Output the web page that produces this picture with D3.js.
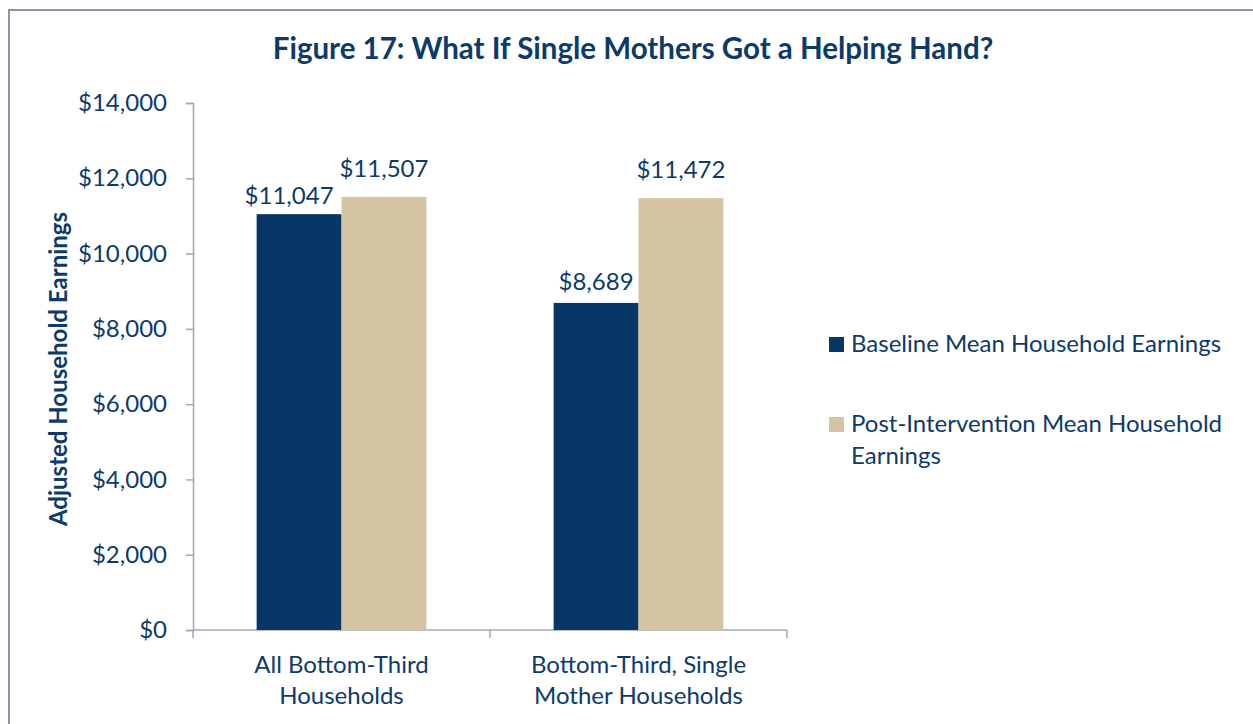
<!DOCTYPE html>
<html>
<head>
<meta charset="utf-8">
<script src="https://cdn.jsdelivr.net/npm/d3@7"></script>
<style>
  body { margin: 0; background: #fff; }
  text { font-family: Lato, "Open Sans", sans-serif; fill: #0c3a6b; }
</style>
</head>
<body>
<script>
const width = 1253;
const height = 724;

const categories = [["All Bottom-Third", "Households"], ["Bottom-Third, Single", "Mother Households"]];
const seriesNames = ["Baseline Mean Household Earnings", "Post-Intervention Mean Household Earnings"];
const baseline = [11047, 8689];
const postIntervention = [11507, 11472];
const yTicks = [0, 2000, 4000, 6000, 8000, 10000, 12000, 14000];

const COLORS = ["#073767", "#d4c4a1"];
const AXIS_COLOR = "#a3a6b6";
const FONT_SIZE = "24px";

const svg = d3.select("body")
	.append("svg")
	.attr("width", width)
	.attr("height", height);

// frame (runs off the right and bottom edges)
svg.append("rect")
	.attr("x", 9)
	.attr("y", 10)
	.attr("width", 1300)
	.attr("height", 800)
	.attr("fill", "none")
	.attr("stroke", "#8e91a3")
	.attr("stroke-width", 2);

svg.append("text")
	.attr("x", 633)
	.attr("y", 59)
	.attr("text-anchor", "middle")
	.attr("font-weight", "bold")
	.attr("font-size", "29.5px")
	.text("Figure 17: What If Single Mothers Got a Helping Hand?");

const x = d3.scaleBand()
	.domain(d3.range(categories.length))
	.range([193, 787]);

const xInner = d3.scaleBand()
	.domain([0, 1])
	.range([0, x.bandwidth()])
	.paddingOuter(0.75);

const y = d3.scaleLinear()
	.domain([0, 14000])
	.range([630, 103]);

// y axis
const yAxis = svg.append("g")
	.attr("transform", "translate(193,0)")
	.call(d3.axisLeft(y).tickValues(yTicks).tickSize(7).tickPadding(19)
		.tickFormat(d => "$" + d3.format(",")(d)));
yAxis.select(".domain").attr("stroke", AXIS_COLOR).attr("stroke-width", 1.5);
yAxis.selectAll(".tick line").attr("stroke", AXIS_COLOR).attr("stroke-width", 1.5);
yAxis.selectAll(".tick text").attr("font-size", FONT_SIZE).attr("fill", "#0c3a6b")
	.attr("font-family", "Lato, sans-serif");

// x axis
const xAxis = svg.append("g").attr("transform", "translate(0,630)");
xAxis.append("line")
	.attr("x1", x.range()[0]).attr("x2", x.range()[1])
	.attr("stroke", AXIS_COLOR).attr("stroke-width", 1.5);
const xEdges = d3.range(categories.length + 1).map(i => x.range()[0] + i * x.step());
xAxis.selectAll("line.edge")
	.data(xEdges)
	.enter()
	.append("line")
	.attr("class", "edge")
	.attr("x1", d => d).attr("x2", d => d)
	.attr("y1", 0).attr("y2", 8)
	.attr("stroke", AXIS_COLOR).attr("stroke-width", 1.5);

const xLabels = xAxis.selectAll("text.cat")
	.data(categories)
	.enter()
	.append("text")
	.attr("class", "cat")
	.attr("text-anchor", "middle")
	.attr("font-size", FONT_SIZE);
xLabels.selectAll("tspan")
	.data((d, i) => d.map(line => ({ line: line, i: i })))
	.enter()
	.append("tspan")
	.attr("x", d => x(d.i) + x.bandwidth() / 2)
	.attr("y", (d, j) => 43 + j * 31)
	.text(d => d.line);

// y axis title
svg.append("text")
	.attr("transform", "translate(67,369) rotate(-90)")
	.attr("text-anchor", "middle")
	.attr("font-weight", "bold")
	.attr("font-size", "24px")
	.text("Adjusted Household Earnings");

// bars
const series = [baseline, postIntervention];
const bars = [];
series.forEach((values, s) => {
	values.forEach((v, i) => bars.push({ s: s, i: i, v: v }));
});

svg.selectAll("rect.bar")
	.data(bars)
	.enter()
	.append("rect")
	.attr("class", "bar")
	.attr("x", d => x(d.i) + xInner(d.s))
	.attr("width", xInner.bandwidth())
	.attr("y", d => y(d.v))
	.attr("height", d => y(0) - y(d.v))
	.attr("fill", d => COLORS[d.s]);

// value labels (first one sits nudged left like the original)
svg.selectAll("text.val")
	.data(bars)
	.enter()
	.append("text")
	.attr("class", "val")
	.attr("text-anchor", "middle")
	.attr("font-size", FONT_SIZE)
	.attr("x", d => x(d.i) + xInner(d.s) + xInner.bandwidth() / 2 - (d.s === 0 && d.i === 0 ? 10 : 0))
	.attr("y", d => y(d.v) - (d.s === 0 ? (d.i === 0 ? 10 : 13) : 20))
	.text(d => "$" + d3.format(",")(d.v));

// legend
const legend = svg.append("g").attr("transform", "translate(829,0)");
const legendRows = [
	{ s: 0, top: 337, lines: [seriesNames[0]] },
	{ s: 1, top: 417, lines: ["Post-Intervention Mean Household", "Earnings"] }
];
legendRows.forEach(row => {
	legend.append("rect")
		.attr("x", 0).attr("y", row.top)
		.attr("width", 15).attr("height", 15)
		.attr("fill", COLORS[row.s]);
	const t = legend.append("text").attr("font-size", FONT_SIZE);
	row.lines.forEach((line, j) => {
		t.append("tspan")
			.attr("x", 22)
			.attr("y", row.top + 15 + j * 32)
			.text(line);
	});
});
</script>
</body>
</html>
